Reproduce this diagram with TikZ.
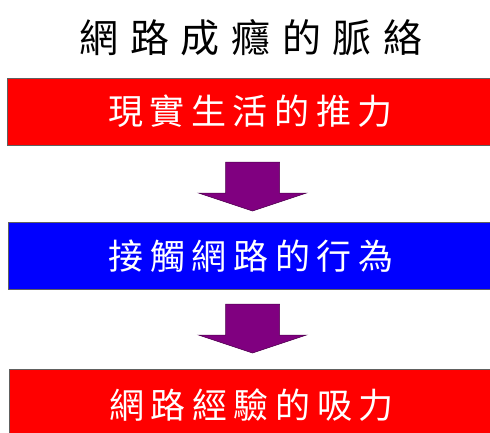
\documentclass[tikz,border=0pt]{standalone}
\usepackage{fontspec}
\newfontfamily\titlefont[LetterSpace=30]{Noto Sans CJK TC}
\newfontfamily\boxfont[LetterSpace=19]{Noto Sans CJK TC}
\definecolor{boxred}{HTML}{FF0000}
\definecolor{boxblue}{HTML}{0000FF}
\definecolor{arrowpurple}{HTML}{800080}
\definecolor{edgegray}{HTML}{606060}
\tikzset{
  stagebox/.style={draw=edgegray, line width=0.8pt, minimum height=67pt, inner sep=0pt,
    font=\boxfont\fontsize{35pt}{37pt}\selectfont, text=white},
  downarrow/.pic={
    \path[fill=arrowpurple, draw=arrowpurple!60!black, line width=0.5pt]
      (-27,0) -- (27,0) -- (27,31) -- (54,31) -- (0,49) -- (-54,31) -- (-27,31) -- cycle;
  }
}
\begin{document}
\begin{tikzpicture}[x=1pt,y=-1pt]
\useasboundingbox[fill=white] (0,0) rectangle (490,432);
\node (title) at (251,38) {\titlefont\fontsize{39pt}{41pt}\selectfont 網路成癮的脈絡};
\node[stagebox, fill=boxred, minimum width=484pt, text width=484pt, align=center] (push) at (249,111.5) {\hspace*{3pt}現實生活的推力};
\node[stagebox, fill=boxblue, minimum width=483pt, text width=483pt, align=center] (act) at (249.5,256) {\hspace*{3pt}接觸網路的行為};
\node[stagebox, fill=boxred, minimum width=482pt, minimum height=72pt, text width=482pt, align=center] (pull) at (250,405) {\hspace*{3pt}網路經驗的吸力};
\coordinate (a1) at (252.5,162);
\coordinate (a2) at (252.5,304);
\pic at (a1) {downarrow};
\pic at (a2) {downarrow};
\end{tikzpicture}
\end{document}
